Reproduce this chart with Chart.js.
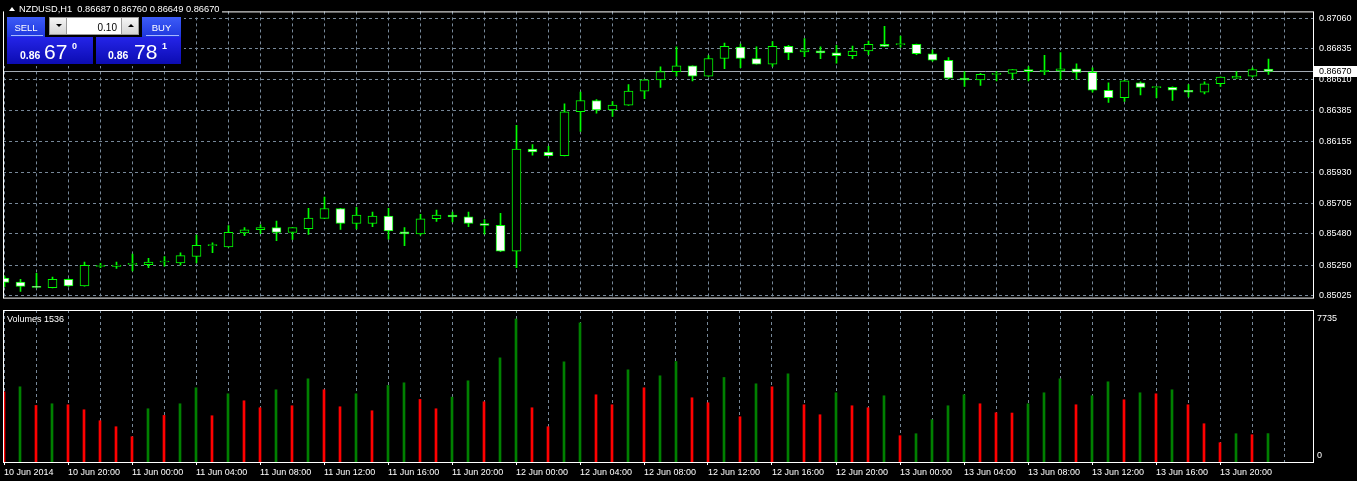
<!DOCTYPE html>
<html lang="fr">
<head>
<meta charset="utf-8">
<title>NZDUSD,H1</title>
<script src="https://cdn.jsdelivr.net/npm/chart.js@4.4.1/dist/chart.umd.min.js"></script>
<style>
  html, body { margin: 0; padding: 0; background: #000; }
  body { position: relative; width: 1357px; height: 481px; overflow: hidden;
         font-family: "Liberation Sans", Arial, sans-serif; color: #fff; }
  canvas { position: absolute; left: 0; }
  #graphique-prix { top: 0; }
  #graphique-volumes { top: 309px; }
  .abs { position: absolute; white-space: pre; }
  #entete { left: 4px; top: 2px; width: 218px; height: 13px; background: #000; }
  #triangle { left: 9px; top: 7px; width: 0; height: 0; border-left: 3px solid transparent;
              border-right: 3px solid transparent; border-bottom: 4px solid #fff; }
  #titre { left: 19px; top: 4.8px; font-size: 9.3px; line-height: 9.3px; }
  #panneau { left: 4px; top: 15px; width: 180px; height: 51px; background: #000; }
  .bouton { top: 17px; height: 20px; background: linear-gradient(#3d5cf7, #1f37de); }
  .bouton span { position: absolute; left: 0; right: 0; text-align: center; top: 5.5px;
                 font-size: 9.5px; line-height: 9.5px; }
  .bouton i { position: absolute; left: 4px; right: 2px; bottom: 1px; height: 1px; background: #a8b8ff; }
  #vendre { left: 7px; width: 38px; }
  #acheter { left: 142px; width: 39px; }
  .cotation { top: 37px; height: 27px; background: linear-gradient(#2424e8, #0c0cb2); }
  #cote-vente { left: 7px; width: 86px; }
  #cote-achat { left: 96px; width: 85px; }
  .petit { font-size: 10.5px; line-height: 10.5px; font-weight: bold; top: 12.6px; }
  .grand { font-size: 21px; line-height: 21px; top: 4.2px; }
  .exposant { font-size: 9px; line-height: 9px; font-weight: bold; top: 4.7px; }
  #lot { left: 49px; top: 17px; width: 88px; height: 16px; background: #fff; border: 1px solid #9a9a9a; }
  .fleche { top: 0; width: 16px; height: 16px; background: linear-gradient(#f4f4f4, #d6d6d6); }
  #moins { left: 0; border-right: 1px solid #9a9a9a; }
  #plus { right: 0; border-left: 1px solid #9a9a9a; }
  .bas { left: 6px; top: 6px; width: 0; height: 0; border-left: 3px solid transparent;
         border-right: 3px solid transparent; border-top: 3px solid #000; }
  .haut { left: 6px; top: 6px; width: 0; height: 0; border-left: 3px solid transparent;
          border-right: 3px solid transparent; border-bottom: 3px solid #000; }
  #valeur-lot { right: 21px; top: 4.5px; color: #000; font-size: 10px; line-height: 10px; }
  #titre-volumes { left: 7px; top: 314.5px; font-size: 9px; line-height: 9px; }
</style>
</head>
<body>
<canvas id="graphique-prix" width="1357" height="309"></canvas>
<canvas id="graphique-volumes" width="1357" height="172"></canvas>

<div class="abs" id="entete"></div>
<div class="abs" id="triangle"></div>
<div class="abs" id="titre">NZDUSD,H1  0.86687 0.86760 0.86649 0.86670</div>

<div class="abs" id="panneau"></div>
<div class="abs bouton" id="vendre"><span>SELL</span><i></i></div>
<div class="abs bouton" id="acheter"><span>BUY</span><i></i></div>
<div class="abs" id="lot">
  <div class="abs fleche" id="moins"><div class="abs bas"></div></div>
  <div class="abs" id="valeur-lot">0.10</div>
  <div class="abs fleche" id="plus"><div class="abs haut"></div></div>
</div>
<div class="abs cotation" id="cote-vente">
  <div class="abs petit" style="left:13px">0.86</div>
  <div class="abs grand" style="left:37px">67</div>
  <div class="abs exposant" style="left:65px">0</div>
</div>
<div class="abs cotation" id="cote-achat">
  <div class="abs petit" style="left:12px">0.86</div>
  <div class="abs grand" style="left:38px">78</div>
  <div class="abs exposant" style="left:66px">1</div>
</div>
<div class="abs" id="titre-volumes">Volumes 1536</div>

<script>
// =====================================================================
// NZDUSD H1 - bougies et volumes (10 au 13 juin 2014)
// =====================================================================

const ouvertures = [
  0.85156, 0.85127, 0.85090, 0.85086, 0.85147, 0.85099, 0.85242, 0.85242, 0.85256, 0.85254,
  0.85274, 0.85268, 0.85315, 0.85394, 0.85385, 0.85487, 0.85510, 0.85526, 0.85490, 0.85518,
  0.85594, 0.85666, 0.85556, 0.85556, 0.85611, 0.85495, 0.85479, 0.85591, 0.85618, 0.85604,
  0.85556, 0.85542, 0.85353, 0.86101, 0.86080, 0.86053, 0.86375, 0.86457, 0.86389, 0.86423,
  0.86526, 0.86608, 0.86669, 0.86711, 0.86635, 0.86765, 0.86848, 0.86765, 0.86724, 0.86854,
  0.86813, 0.86822, 0.86806, 0.86786, 0.86820, 0.86868, 0.86866, 0.86868, 0.86800, 0.86752,
  0.86621, 0.86608, 0.86648, 0.86656, 0.86683, 0.86669, 0.86674, 0.86690, 0.86663, 0.86532,
  0.86478, 0.86587, 0.86552, 0.86553, 0.86532, 0.86519, 0.86580, 0.86621, 0.86635, 0.86687
];
const plusHauts = [
  0.85170, 0.85147, 0.85190, 0.85163, 0.85150, 0.85273, 0.85264, 0.85273, 0.85332, 0.85300,
  0.85314, 0.85341, 0.85471, 0.85414, 0.85540, 0.85526, 0.85546, 0.85574, 0.85526, 0.85667,
  0.85750, 0.85668, 0.85675, 0.85640, 0.85667, 0.85526, 0.85623, 0.85654, 0.85640, 0.85640,
  0.85585, 0.85631, 0.86276, 0.86135, 0.86121, 0.86432, 0.86519, 0.86464, 0.86450, 0.86574,
  0.86610, 0.86704, 0.86850, 0.86712, 0.86786, 0.86877, 0.86870, 0.86850, 0.86889, 0.86861,
  0.86911, 0.86850, 0.86861, 0.86856, 0.86893, 0.87000, 0.86930, 0.86870, 0.86827, 0.86772,
  0.86669, 0.86656, 0.86669, 0.86683, 0.86706, 0.86788, 0.86809, 0.86726, 0.86697, 0.86587,
  0.86605, 0.86594, 0.86560, 0.86558, 0.86574, 0.86594, 0.86630, 0.86669, 0.86697, 0.86760
];
const plusBas = [
  0.85094, 0.85058, 0.85084, 0.85084, 0.85095, 0.85097, 0.85232, 0.85227, 0.85209, 0.85232,
  0.85243, 0.85250, 0.85268, 0.85343, 0.85383, 0.85467, 0.85482, 0.85431, 0.85440, 0.85476,
  0.85594, 0.85512, 0.85516, 0.85532, 0.85442, 0.85393, 0.85470, 0.85572, 0.85567, 0.85532,
  0.85477, 0.85350, 0.85232, 0.86057, 0.86052, 0.86052, 0.86231, 0.86365, 0.86341, 0.86422,
  0.86471, 0.86553, 0.86635, 0.86601, 0.86634, 0.86690, 0.86697, 0.86723, 0.86706, 0.86756,
  0.86779, 0.86763, 0.86731, 0.86763, 0.86793, 0.86852, 0.86848, 0.86793, 0.86745, 0.86615,
  0.86560, 0.86567, 0.86601, 0.86615, 0.86601, 0.86646, 0.86612, 0.86612, 0.86519, 0.86443,
  0.86450, 0.86498, 0.86478, 0.86457, 0.86484, 0.86505, 0.86560, 0.86619, 0.86630, 0.86649
];
const clotures = [
  0.85125, 0.85095, 0.85088, 0.85147, 0.85099, 0.85250, 0.85249, 0.85252, 0.85258, 0.85273,
  0.85276, 0.85320, 0.85396, 0.85397, 0.85492, 0.85510, 0.85526, 0.85490, 0.85526, 0.85596,
  0.85666, 0.85556, 0.85618, 0.85611, 0.85502, 0.85479, 0.85591, 0.85618, 0.85604, 0.85556,
  0.85542, 0.85353, 0.86101, 0.86080, 0.86053, 0.86375, 0.86457, 0.86389, 0.86423, 0.86526,
  0.86608, 0.86669, 0.86711, 0.86635, 0.86765, 0.86854, 0.86765, 0.86724, 0.86854, 0.86806,
  0.86829, 0.86806, 0.86786, 0.86820, 0.86868, 0.86854, 0.86869, 0.86800, 0.86752, 0.86621,
  0.86608, 0.86649, 0.86650, 0.86683, 0.86669, 0.86678, 0.86690, 0.86663, 0.86532, 0.86478,
  0.86601, 0.86553, 0.86554, 0.86532, 0.86519, 0.86580, 0.86628, 0.86635, 0.86683, 0.86670
];
const volumes = [
  3798, 4068, 3060, 3150, 3096, 2826, 2232, 1908, 1368, 2880,
  2520, 3150, 4014, 2502, 3690, 3312, 2934, 3906, 3042, 4500,
  3906, 2988, 3690, 2772, 4140, 4284, 3384, 2880, 3510, 4392,
  3258, 5634, 7735, 2934, 1908, 5418, 7524, 3636, 3096, 4986,
  4014, 4662, 5436, 3474, 3204, 4572, 2448, 4230, 4068, 4770,
  3096, 2556, 3744, 3042, 2934, 3582, 1422, 1530, 2286, 3042,
  3636, 3150, 2664, 2650, 3150, 3744, 4500, 3096, 3582, 4338,
  3366, 3744, 3690, 3906, 3096, 2070, 1044, 1530, 1476, 1536
];

// Une étiquette toutes les 4 bougies
const etiquettesTemps = [
  '10 Jun 2014', '10 Jun 20:00', '11 Jun 00:00', '11 Jun 04:00', '11 Jun 08:00',
  '11 Jun 12:00', '11 Jun 16:00', '11 Jun 20:00', '12 Jun 00:00', '12 Jun 04:00',
  '12 Jun 08:00', '12 Jun 12:00', '12 Jun 16:00', '12 Jun 20:00', '13 Jun 00:00',
  '13 Jun 04:00', '13 Jun 08:00', '13 Jun 12:00', '13 Jun 16:00', '13 Jun 20:00'
];
const graduationsPrix = [0.87060, 0.86835, 0.86610, 0.86385, 0.86155, 0.85930, 0.85705, 0.85480, 0.85250, 0.85025];
const graduationsVolume = [0, 7735];
const prixActuel = 0.86670;

const VERT = '#00ff00';
const COULEUR_GRILLE = '#778899';
const TIRETS = [3, 3];
const POLICE = "'Liberation Sans', Arial, sans-serif";

Chart.defaults.font.family = POLICE;
Chart.defaults.font.size = 9;
Chart.defaults.color = '#ffffff';

// Grille verticale toutes les 2 bougies
const pasGrille = Array.from({ length: 41 }, (_, k) => k * 2);

// Cadre blanc autour de la zone de tracé (style MetaTrader)
const cadre = {
  id: 'cadre',
  afterDraw(chart) {
    const { ctx, chartArea: a } = chart;
    ctx.save();
    ctx.strokeStyle = '#ffffff';
    ctx.lineWidth = 1;
    ctx.strokeRect(a.left + 0.5, a.top + 0.5, a.right - a.left, a.bottom - a.top);
    ctx.restore();
  }
};

// Ligne du prix courant et son étiquette sur l'axe
const ligneBid = {
  id: 'ligneBid',
  beforeDatasetsDraw(chart) {
    const { ctx, chartArea: a, scales } = chart;
    const y = Math.round(scales.y.getPixelForValue(prixActuel)) + 0.5;
    ctx.save();
    ctx.strokeStyle = '#a3abb4';
    ctx.lineWidth = 1;
    ctx.beginPath();
    ctx.moveTo(a.left, y);
    ctx.lineTo(a.right, y);
    ctx.stroke();
    ctx.restore();
  },
  afterDraw(chart) {
    const { ctx, chartArea: a, scales } = chart;
    const y = Math.round(scales.y.getPixelForValue(prixActuel));
    ctx.save();
    ctx.fillStyle = '#ffffff';
    ctx.fillRect(a.right + 1, y - 5, chart.width - a.right - 1, 11);
    ctx.fillStyle = '#000000';
    ctx.font = '9px ' + POLICE;
    ctx.textBaseline = 'middle';
    ctx.fillText(prixActuel.toFixed(5), a.right + 6, y + 0.5);
    ctx.restore();
  }
};

// Étiquettes de l'axe des volumes (le 0 reste dans le panneau)
const etiquettesVolume = {
  id: 'etiquettesVolume',
  afterDraw(chart) {
    const { ctx, chartArea: a, scales } = chart;
    ctx.save();
    ctx.fillStyle = '#ffffff';
    ctx.font = '9px ' + POLICE;
    ctx.textBaseline = 'middle';
    graduationsVolume.forEach((v) => {
      const y = Math.min(scales.y.getPixelForValue(v), a.bottom - 6);
      ctx.fillText(String(v), a.right + 4, y);
    });
    ctx.restore();
  }
};

// Graphique des bougies : corps (ouverture/clôture) et mèches (bas/haut)
const corps = ouvertures.map((o, i) => ({ x: i, y: [o, clotures[i]] }));
const meches = plusBas.map((b, i) => ({ x: i, y: [b, plusHauts[i]] }));
const couleursCorps = ouvertures.map((o, i) => (clotures[i] < o ? '#ffffff' : '#000000'));

new Chart(document.getElementById('graphique-prix'), {
  type: 'bar',
  data: {
    datasets: [
      {
        label: 'Corps',
        data: corps,
        backgroundColor: couleursCorps,
        borderColor: VERT,
        borderWidth: 1,
        borderSkipped: false,
        barThickness: 9,
        minBarLength: 1,
        grouped: false,
        order: 1
      },
      {
        label: 'Mèches',
        data: meches,
        backgroundColor: VERT,
        barThickness: 1,
        grouped: false,
        order: 2
      }
    ]
  },
  options: {
    responsive: false,
    animation: false,
    layout: { padding: { left: 3, top: 1, right: 0, bottom: 2 } },
    plugins: { legend: { display: false }, tooltip: { enabled: false } },
    scales: {
      x: {
        type: 'linear',
        offset: false,
        min: -0.09375,
        max: 81.78125,
        ticks: { display: false },
        grid: { color: COULEUR_GRILLE, drawTicks: false, offset: false },
        border: { display: false, dash: TIRETS },
        afterBuildTicks: (s) => { s.ticks = pasGrille.map((v) => ({ value: v })); },
        afterFit: (s) => { s.height = 0; }
      },
      y: {
        position: 'right',
        min: 0.85013,
        max: 0.87110,
        ticks: { color: '#ffffff', padding: 6, callback: (v) => Number(v).toFixed(5) },
        grid: { color: COULEUR_GRILLE, drawTicks: false },
        border: { display: false, dash: TIRETS },
        afterBuildTicks: (s) => { s.ticks = graduationsPrix.map((v) => ({ value: v })); },
        afterFit: (s) => { s.width = 44; }
      }
    }
  },
  plugins: [ligneBid, cadre]
});

// Volumes : vert si le volume augmente par rapport à la bougie précédente, rouge sinon
const couleursVolume = volumes.map((v, i) => (i > 0 && v > volumes[i - 1] ? '#008000' : '#ff0000'));

new Chart(document.getElementById('graphique-volumes'), {
  type: 'bar',
  data: {
    datasets: [{
      label: 'Volumes',
      data: volumes.map((v, i) => ({ x: i, y: v })),
      backgroundColor: couleursVolume,
      barThickness: 2
    }]
  },
  options: {
    responsive: false,
    animation: false,
    layout: { padding: { left: 3, top: 1, right: 0, bottom: 0 } },
    plugins: { legend: { display: false }, tooltip: { enabled: false } },
    scales: {
      x: {
        type: 'linear',
        offset: false,
        min: -0.0625,
        max: 81.8125,
        ticks: {
          color: '#ffffff',
          autoSkip: false,
          maxRotation: 0,
          align: 'start',
          padding: 2,
          callback: (v) => (v % 4 === 0 ? (etiquettesTemps[v / 4] || '') : '')
        },
        grid: {
          color: COULEUR_GRILLE,
          offset: false,
          tickLength: 3,
          tickBorderDash: [],
          tickColor: (c) => (c.tick && c.tick.value % 4 === 0 && c.tick.value < 80 ? '#ffffff' : 'rgba(0,0,0,0)')
        },
        border: { display: false, dash: TIRETS },
        afterBuildTicks: (s) => { s.ticks = pasGrille.map((v) => ({ value: v })); },
        afterFit: (s) => { s.height = 19; }
      },
      y: {
        position: 'right',
        min: 0,
        max: 8222,
        ticks: { display: false },
        grid: { display: false },
        border: { display: false },
        afterFit: (s) => { s.width = 44; }
      }
    }
  },
  plugins: [etiquettesVolume, cadre]
});
</script>
</body>
</html>
